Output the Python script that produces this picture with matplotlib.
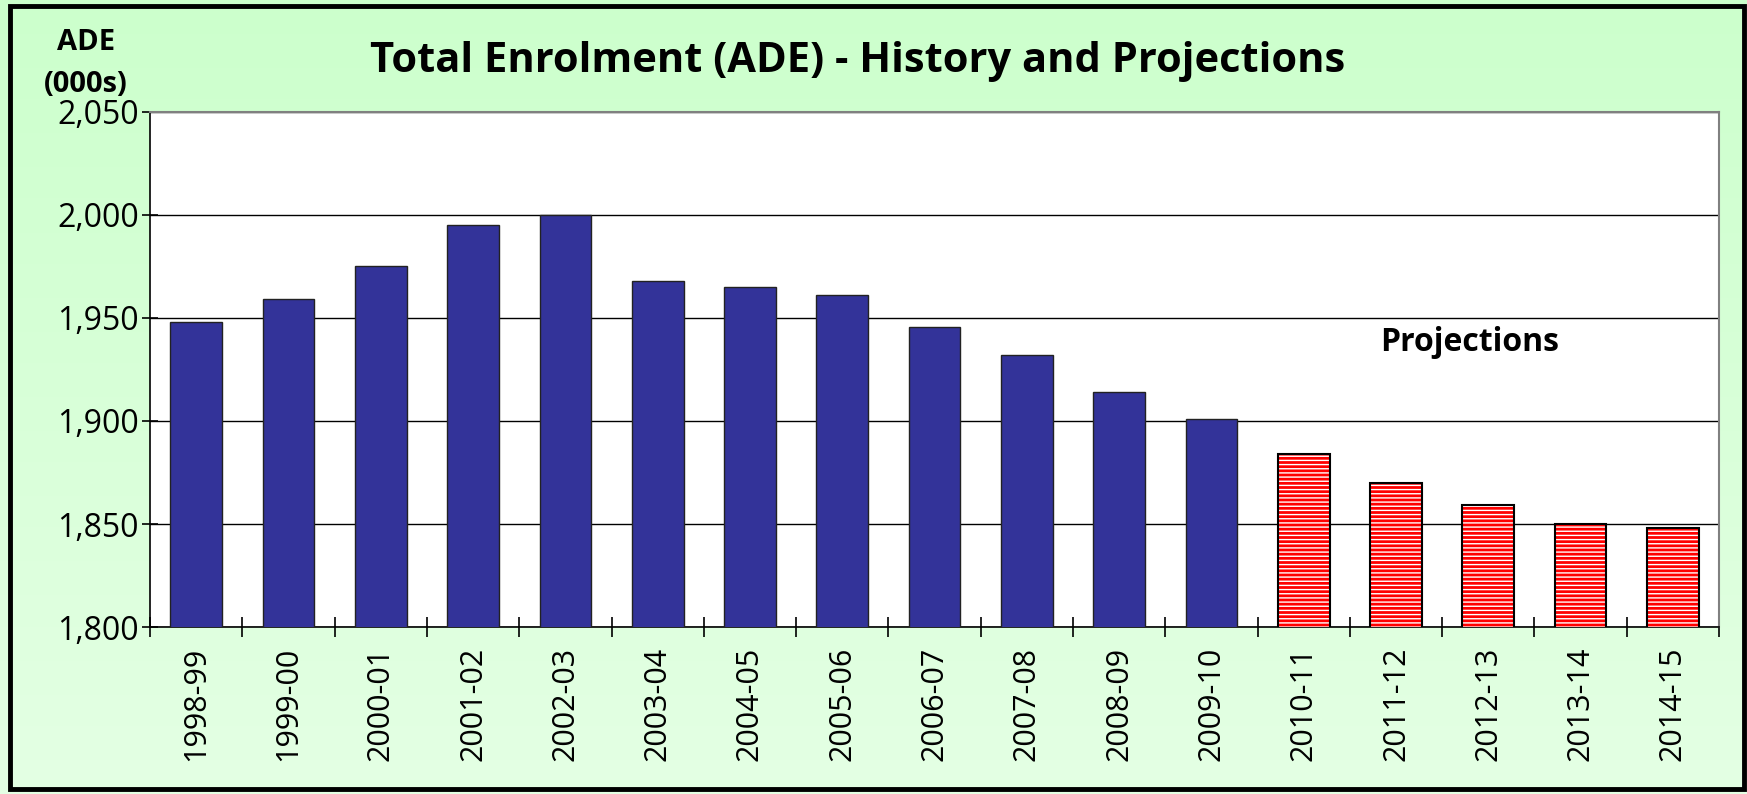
import matplotlib
matplotlib.use('Agg')
import matplotlib.pyplot as plt
import numpy as np
from matplotlib.patches import Rectangle
from matplotlib.colors import LinearSegmentedColormap

years = ['1998-99', '1999-00', '2000-01', '2001-02', '2002-03', '2003-04',
         '2004-05', '2005-06', '2006-07', '2007-08', '2008-09', '2009-10',
         '2010-11', '2011-12', '2012-13', '2013-14', '2014-15']
history = [1948, 1959, 1975, 1995, 2000, 1968, 1965, 1961, 1945.5, 1932, 1914, 1901]
projections = [1884, 1870, 1859, 1850, 1848]

plt.rcParams['font.family'] = 'Open Sans'
plt.rcParams['hatch.color'] = 'white'
plt.rcParams['hatch.linewidth'] = 1.0

fig = plt.figure(figsize=(17.47, 7.94), dpi=100)

# background gradient: darker green at top, lighter at bottom
bg = fig.add_axes([0, 0, 1, 1], zorder=-10)
grad = np.linspace(0, 1, 256).reshape(-1, 1)
cmap = LinearSegmentedColormap.from_list('g', ['#ccffcc', '#e4ffe4'])
bg.imshow(grad, aspect='auto', cmap=cmap, extent=[0, 1, 1, 0], origin='upper')
bg.set_xlim(0, 1); bg.set_ylim(1, 0)
bg.axis('off')
bg.add_patch(Rectangle((0.0055, 0.006), 0.9925, 0.987, fill=False,
                       edgecolor='black', lw=3.5, transform=fig.transFigure))

ax = fig.add_axes([0.0859, 0.2103, 0.8981, 0.6487])
ax.set_facecolor('white')

x = np.arange(len(years))
nh = len(history)
w = 0.56
ax.bar(x[:nh], history, w, color='#333399', edgecolor='#222222', lw=1.0, zorder=3)
ax.bar(x[nh:], projections, w, color='#ff0000', edgecolor='white', lw=0,
       hatch='----', zorder=3)
ax.bar(x[nh:], projections, w, color='none', edgecolor='black', lw=1.5, zorder=4)

ax.set_xlim(-0.5, len(years) - 0.5)
ax.set_ylim(1800, 2050)
ax.set_yticks(np.arange(1800, 2051, 50))
ax.set_yticklabels([f'{v:,}' for v in range(1800, 2051, 50)], fontsize=23)
ax.yaxis.grid(True, color='black', lw=1.0, zorder=0)
ax.set_axisbelow(True)

ax.set_xticks(x)
ax.set_xticklabels(years, rotation=90, fontsize=22)
ax.tick_params(axis='x', length=0, pad=14)
ax.set_xticks(np.arange(-0.5, len(years), 1), minor=True)
ax.tick_params(axis='x', which='minor', direction='inout', length=14, width=1.2)
ax.tick_params(axis='y', direction='inout', length=12, width=1.2, pad=2)

for s in ['top', 'right']:
    ax.spines[s].set_color('#808080')
    ax.spines[s].set_linewidth(1.5)
for s in ['left', 'bottom']:
    ax.spines[s].set_color('black')
    ax.spines[s].set_linewidth(1.2)

ax.text(13.8, 1938, 'Projections', fontsize=23, fontweight='bold',
        ha='center', va='center', zorder=5)

fig.text(0.491, 0.922, 'Total Enrolment (ADE) - History and Projections',
         fontsize=30, fontweight='bold', ha='center', va='center')
fig.text(0.049, 0.947, 'ADE', fontsize=21, fontweight='bold', ha='center', va='center')
fig.text(0.049, 0.893, '(000s)', fontsize=21, fontweight='bold', ha='center', va='center')

fig.savefig('out.png', dpi=100)
